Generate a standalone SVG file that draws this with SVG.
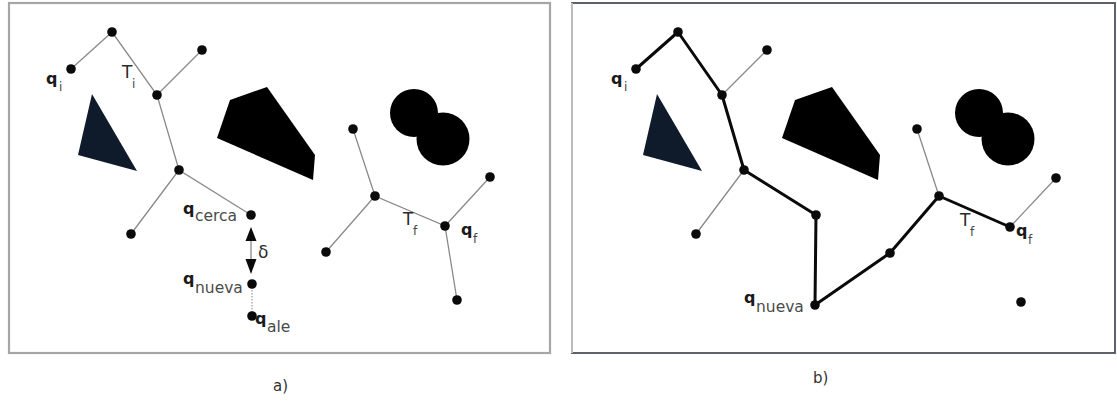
<svg xmlns="http://www.w3.org/2000/svg" width="1117" height="402" viewBox="0 0 1117 402">
<style>
.bg{fill:#fff}
.thin{stroke:#8a8a8a;stroke-width:1.3;fill:none;stroke-linecap:round}
.thick{stroke:#0a0a0a;stroke-width:3;fill:none;stroke-linejoin:round;stroke-linecap:round}
.dot{stroke:#9a9a9a;stroke-width:1.2;stroke-dasharray:1.5 1.5;fill:none}
.nd{fill:#0a0a0a}
.obs{fill:#000}
.tri{fill:#0f1b2a}
.q{font-family:"DejaVu Sans",sans-serif;font-size:16px;font-weight:bold;fill:#1a1a1a}
.sub{font-family:"DejaVu Sans",sans-serif;font-size:15.5px;fill:#4a4a4a}
.ssub{font-family:"DejaVu Sans",sans-serif;font-size:12px;fill:#444}
.T{font-family:"DejaVu Sans",sans-serif;font-size:17px;fill:#2a2a2a}
.cap{font-family:"DejaVu Sans",sans-serif;font-size:15px;fill:#333}
</style>
<rect class="bg" x="0" y="0" width="1117" height="402"/>

<!-- Panel a -->
<g id="panel-a">
  <rect x="9" y="3" width="541" height="350" fill="#fff" stroke="#a6a6a6" stroke-width="2.2"/>
  <g id="a-obstacles">
    <polygon class="tri" points="92,94 78,155 137,171"/>
    <polygon class="obs" points="230,100 267,87 315,155 313,180 217,138"/>
    <circle class="obs" cx="414" cy="113" r="24"/>
    <circle class="obs" cx="443" cy="139" r="26.5"/>
  </g>
  <g id="a-connectors">
    <polyline class="thin" points="71,69 112,32 157,95 179,170 251,215"/>
    <line class="thin" x1="157" y1="95" x2="202" y2="50"/>
    <line class="thin" x1="179" y1="170" x2="131" y2="234"/>
    <line class="thin" x1="251" y1="241" x2="251" y2="259" stroke="#c0c0c0"/>
    <line class="dot" x1="252" y1="284" x2="252" y2="316"/>
    <polyline class="thin" points="353,129 375,196 445,226 457,300"/>
    <line class="thin" x1="375" y1="196" x2="326" y2="252"/>
    <line class="thin" x1="445" y1="226" x2="490" y2="177"/>
    <polygon class="nd" points="251,227 245.5,241 256.5,241"/>
    <polygon class="nd" points="245.5,259 256.5,259 251,274"/>
  </g>
  <g id="a-node-qi"><circle class="nd" cx="71" cy="69" r="4.8"/>
    <text class="q" x="46" y="84">q</text><text class="ssub" x="59" y="91">i</text></g>
  <g id="a-node-1"><circle class="nd" cx="112" cy="32" r="4.8"/></g>
  <g id="a-node-2"><circle class="nd" cx="202" cy="50" r="4.8"/></g>
  <g id="a-node-3"><circle class="nd" cx="157" cy="95" r="4.8"/>
    <text class="T" x="122" y="78">T</text><text class="ssub" x="132" y="88">i</text></g>
  <g id="a-node-4"><circle class="nd" cx="179" cy="170" r="4.8"/></g>
  <g id="a-node-5"><circle class="nd" cx="131" cy="234" r="4.8"/></g>
  <g id="a-node-qcerca"><circle class="nd" cx="251" cy="215" r="4.8"/>
    <text class="q" x="183" y="214">q</text><text class="sub" x="195" y="221">cerca</text></g>
  <g id="a-delta"><text class="T" x="258" y="258" font-size="16">δ</text></g>
  <g id="a-node-qnueva"><circle class="nd" cx="252" cy="284" r="4.8"/>
    <text class="q" x="183" y="284">q</text><text class="sub" x="195" y="293">nueva</text></g>
  <g id="a-node-qale"><circle class="nd" cx="252" cy="316" r="4.8"/>
    <text class="q" x="255" y="324">q</text><text class="sub" x="267" y="332">ale</text></g>
  <g id="a-node-f1"><circle class="nd" cx="353" cy="129" r="4.8"/></g>
  <g id="a-node-f2"><circle class="nd" cx="375" cy="196" r="4.8"/></g>
  <g id="a-node-f3"><circle class="nd" cx="326" cy="252" r="4.8"/></g>
  <g id="a-node-qf"><circle class="nd" cx="445" cy="226" r="4.8"/>
    <text class="T" x="403" y="225">T</text><text class="ssub" x="413" y="235">f</text>
    <text class="q" x="461" y="235">q</text><text class="ssub" x="473" y="243">f</text></g>
  <g id="a-node-f4"><circle class="nd" cx="490" cy="177" r="4.8"/></g>
  <g id="a-node-f5"><circle class="nd" cx="457" cy="300" r="4.8"/></g>
  <text class="cap" x="273" y="391">a)</text>
</g>

<!-- Panel b -->
<g id="panel-b">
  <rect x="572" y="3" width="543" height="350" fill="#fff" stroke="#4c505c" stroke-width="1.8"/>
  <line x1="572" y1="3" x2="572" y2="353" stroke="#bdbdbd" stroke-width="2"/>
  <g id="b-obstacles">
    <polygon class="tri" points="657,94 643,155 702,171"/>
    <polygon class="obs" points="795,100 832,87 880,155 878,180 782,138"/>
    <circle class="obs" cx="979" cy="113" r="24"/>
    <circle class="obs" cx="1008" cy="139" r="26.5"/>
  </g>
  <g id="b-connectors">
    <line class="thin" x1="722" y1="95" x2="767" y2="50"/>
    <line class="thin" x1="744" y1="170" x2="696" y2="234"/>
    <line class="thin" x1="917" y1="129" x2="939" y2="196"/>
    <line class="thin" x1="1010" y1="227" x2="1056" y2="178"/>
    <polyline class="thick" points="636,69 678,32 722,95 744,170 816,215 815,305 890,253 939,196 1010,227"/>
  </g>
  <g id="b-node-qi"><circle class="nd" cx="636" cy="69" r="4.8"/>
    <text class="q" x="611" y="84">q</text><text class="ssub" x="624" y="91">i</text></g>
  <g id="b-node-1"><circle class="nd" cx="678" cy="32" r="4.8"/></g>
  <g id="b-node-2"><circle class="nd" cx="767" cy="50" r="4.8"/></g>
  <g id="b-node-3"><circle class="nd" cx="722" cy="95" r="4.8"/></g>
  <g id="b-node-4"><circle class="nd" cx="744" cy="170" r="4.8"/></g>
  <g id="b-node-5"><circle class="nd" cx="696" cy="234" r="4.8"/></g>
  <g id="b-node-6"><circle class="nd" cx="816" cy="215" r="4.8"/></g>
  <g id="b-node-qnueva"><circle class="nd" cx="815" cy="305" r="4.8"/>
    <text class="q" x="744" y="303">q</text><text class="sub" x="756" y="312">nueva</text></g>
  <g id="b-node-f3"><circle class="nd" cx="890" cy="253" r="4.8"/></g>
  <g id="b-node-f2"><circle class="nd" cx="939" cy="196" r="4.8"/></g>
  <g id="b-node-f1"><circle class="nd" cx="917" cy="129" r="4.8"/></g>
  <g id="b-node-qf"><circle class="nd" cx="1010" cy="227" r="4.8"/>
    <text class="T" x="960" y="226">T</text><text class="ssub" x="970" y="236">f</text>
    <text class="q" x="1016" y="236">q</text><text class="ssub" x="1028" y="244">f</text></g>
  <g id="b-node-f4"><circle class="nd" cx="1056" cy="178" r="4.8"/></g>
  <g id="b-node-f5"><circle class="nd" cx="1021" cy="302" r="4.8"/></g>
  <text class="cap" x="813" y="383">b)</text>
</g>
</svg>
